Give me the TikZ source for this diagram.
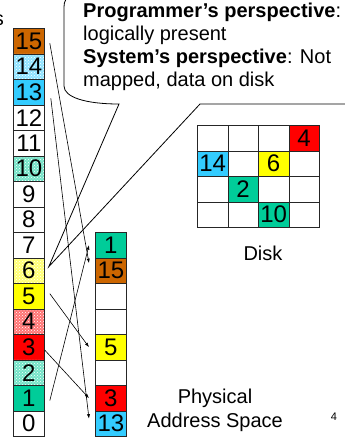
\documentclass[tikz,border=0pt]{standalone}
\usepackage{fontspec}
\setmainfont{Liberation Sans}
\usetikzlibrary{patterns,arrows.meta}
\definecolor{pbrown}{RGB}{204,102,0}
\definecolor{pcyan}{RGB}{51,204,255}
\definecolor{pgreen}{RGB}{0,204,153}
\definecolor{pyellow}{RGB}{255,255,0}
\definecolor{pred}{RGB}{255,0,0}
\begin{document}
\begin{tikzpicture}[x=1pt,y=-1pt,
  cell/.style={draw=black!85, line width=0.8pt, minimum width=31pt, minimum height=25.5pt,
    inner sep=0pt, anchor=north west, font=\fontsize{24}{24}\selectfont},
  dcell/.style={cell, minimum width=30.5pt},
  hatched/.style={preaction={fill=#1!55}, pattern=crosshatch dots, pattern color=white},
  sfill/.style={fill=#1},
  mapline/.style={line width=0.6pt, -{Latex[length=4.5pt,width=3.2pt]}},
  lbl/.style={font=\fontsize{20}{23}\selectfont, inner sep=0pt},
  callout/.style={draw=black, line width=0.8pt, fill=white, line join=miter}
]
\useasboundingbox (0,0) rectangle (345,437);

% cropped title fragment
\node[lbl, anchor=base east] (vtitle) at (4,25) {s};

% virtual address space
\node[cell, sfill=pbrown]    (v15) at (13,28)    {15};
\node[cell, hatched=pcyan]   (v14) at (13,53.5)  {14};
\node[cell, sfill=pcyan]     (v13) at (13,79)    {13};
\node[cell]                  (v12) at (13,104.5) {12};
\node[cell]                  (v11) at (13,130)   {11};
\node[cell, hatched=pgreen]  (v10) at (13,155.5) {10};
\node[cell]                  (v9)  at (13,181)   {9};
\node[cell]                  (v8)  at (13,206.5) {8};
\node[cell]                  (v7)  at (13,232)   {7};
\node[cell, hatched=pyellow] (v6)  at (13,257.5) {6};
\node[cell, sfill=pyellow]   (v5)  at (13,283)   {5};
\node[cell, hatched=pred]    (v4)  at (13,308.5) {4};
\node[cell, sfill=pred]      (v3)  at (13,334)   {3};
\node[cell, hatched=pgreen]  (v2)  at (13,359.5) {2};
\node[cell, sfill=pgreen]    (v1)  at (13,385)   {1};
\node[cell]                  (v0)  at (13,410.5) {0};

% physical address space
\node[cell, sfill=pgreen]  (p0) at (95,232)   {1};
\node[cell, sfill=pbrown]  (p1) at (95,257.5) {15};
\node[cell]                (p2) at (95,283)   {};
\node[cell]                (p3) at (95,308.5) {};
\node[cell, sfill=pyellow] (p4) at (95,334)   {5};
\node[cell]                (p5) at (95,359.5) {};
\node[cell, sfill=pred]    (p6) at (95,385)   {3};
\node[cell, sfill=pcyan]   (p7) at (95,410.5) {13};

% disk
\foreach \r in {0,1,2,3}{
  \foreach \c in {0,1,2,3}{
    \node[dcell] (d\r\c) at (197+\c*30.5,125+\r*25.5) {};
  }
}
\node[dcell, sfill=pred]    (d03x) at (288.5,125)   {4};
\node[dcell, sfill=pcyan]   (d10x) at (197,150.5)   {14};
\node[dcell, sfill=pyellow] (d12x) at (258,150.5)   {6};
\node[dcell, sfill=pgreen]  (d21x) at (227.5,176)   {2};
\node[dcell, sfill=pgreen]  (d32x) at (258,201.5)   {10};

\node[lbl, anchor=base] (disklbl) at (263,260) {Disk};
\node[lbl, anchor=base] (phys1) at (215,403) {Physical};
\node[lbl, anchor=base] (phys2) at (215,427) {Address Space};
\node[font=\fontsize{11}{13}\selectfont, inner sep=0pt] (pagenum) at (334,417) {4};

% callout
\coordinate (tip) at ([xshift=4pt,yshift=4pt]v6.east);
\draw[callout] (200,104) -- (352,104) -- (352,-3) -- (72,-3)
  .. controls (66,-3) and (64,1) .. (64,7) -- (64,86)
  .. controls (64,97) and (85,104) .. (119,104) -- (tip) -- cycle;
\node[lbl, anchor=base west] (t1) at (83,17) {\textbf{Programmer’s perspective}:};
\node[lbl, anchor=base west] (t2) at (83,40) {logically present};
\node[lbl, anchor=base west] (t3) at (83,63) {\textbf{System’s perspective}: Not};
\node[lbl, anchor=base west] (t4) at (83,86) {mapped, data on disk};

% mappings
\draw[mapline] ([xshift=5pt,yshift=-2pt]v15.east) -- ([xshift=-6pt,yshift=7.5pt]p1.west);
\draw[mapline] ([xshift=6pt,yshift=-6pt]v13.east) -- ([xshift=-6pt,yshift=5pt]p7.west);
\draw[mapline] ([xshift=5pt,yshift=-2.5pt]v1.east) -- ([xshift=-6pt]p0.west);
\draw[mapline] ([xshift=5pt,yshift=2.5pt]v5.east) -- ([xshift=-6pt]p4.west);
\draw[mapline] ([yshift=-3pt]v3.east) -- ([xshift=-6pt]p6.west);
\end{tikzpicture}
\end{document}
